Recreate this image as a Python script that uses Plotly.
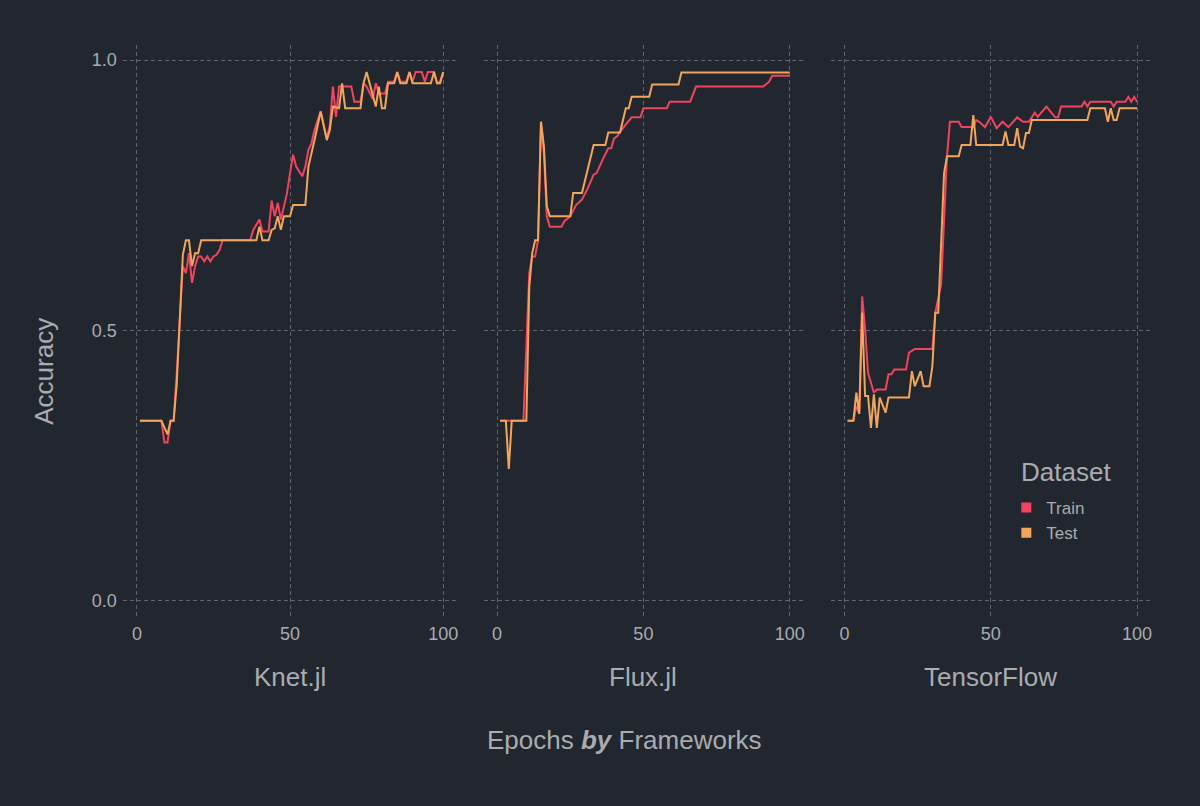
import plotly.graph_objects as go

# accuracy per epoch
knet_train_epochs = [1, 8, 9, 10, 11, 12, 13, 15, 16, 17, 18, 19, 20, 21, 22, 23, 24, 25, 26, 27, 28, 37, 38, 40, 41, 43, 44, 45, 46, 47, 48, 49, 50, 51, 52, 54, 55, 56, 57, 58, 60, 62, 63, 64, 65, 66, 70, 71, 73, 74, 75, 77, 78, 79, 81, 82, 84, 85, 86, 88, 89, 90, 91, 93, 94, 95, 97, 98, 99, 100]
knet_train_acc = [0.333, 0.333, 0.293, 0.293, 0.333, 0.333, 0.42, 0.619, 0.606, 0.643, 0.588, 0.619, 0.637, 0.637, 0.628, 0.637, 0.628, 0.637, 0.64, 0.649, 0.667, 0.667, 0.686, 0.705, 0.683, 0.683, 0.74, 0.711, 0.736, 0.705, 0.729, 0.754, 0.791, 0.825, 0.803, 0.785, 0.803, 0.834, 0.846, 0.871, 0.905, 0.855, 0.88, 0.951, 0.895, 0.951, 0.951, 0.923, 0.923, 0.957, 0.951, 0.928, 0.957, 0.938, 0.938, 0.96, 0.96, 0.978, 0.96, 0.96, 0.978, 0.96, 0.978, 0.978, 0.96, 0.978, 0.978, 0.957, 0.96, 0.978]

knet_test_epochs = [1, 8, 10, 11, 12, 13, 15, 16, 17, 18, 19, 20, 21, 39, 40, 41, 43, 44, 45, 46, 47, 48, 50, 51, 55, 56, 58, 60, 62, 63, 64, 66, 67, 68, 73, 74, 75, 76, 78, 79, 80, 81, 82, 84, 85, 86, 88, 89, 90, 96, 97, 98, 99, 100]
knet_test_acc = [0.333, 0.333, 0.308, 0.333, 0.333, 0.40, 0.64, 0.667, 0.667, 0.619, 0.643, 0.643, 0.667, 0.667, 0.692, 0.667, 0.667, 0.686, 0.689, 0.711, 0.686, 0.711, 0.711, 0.732, 0.732, 0.803, 0.852, 0.905, 0.852, 0.871, 0.914, 0.911, 0.957, 0.911, 0.911, 0.957, 0.978, 0.957, 0.914, 0.951, 0.911, 0.911, 0.957, 0.957, 0.978, 0.957, 0.957, 0.978, 0.957, 0.957, 0.978, 0.957, 0.957, 0.978]

flux_train_epochs = [1, 9, 11, 12, 13, 14, 15, 16, 17, 18, 22, 23, 25, 27, 29, 31, 33, 34, 36, 38, 39, 40, 41, 43, 46, 49, 50, 58, 59, 66, 68, 91, 93, 94, 100]
flux_train_acc = [0.333, 0.333, 0.606, 0.637, 0.637, 0.667, 0.886, 0.828, 0.711, 0.692, 0.692, 0.702, 0.711, 0.732, 0.742, 0.763, 0.788, 0.791, 0.815, 0.837, 0.837, 0.855, 0.859, 0.874, 0.894, 0.894, 0.911, 0.911, 0.923, 0.923, 0.951, 0.951, 0.96, 0.971, 0.971]

flux_test_epochs = [1, 3, 4, 5, 10, 11, 12, 13, 14, 15, 16, 17, 18, 25, 26, 29, 33, 37, 38, 42, 44, 45, 46, 52, 53, 62, 63, 100]
flux_test_acc = [0.333, 0.333, 0.244, 0.333, 0.333, 0.58, 0.643, 0.667, 0.667, 0.886, 0.84, 0.73, 0.711, 0.711, 0.754, 0.754, 0.843, 0.843, 0.866, 0.866, 0.911, 0.911, 0.932, 0.932, 0.955, 0.955, 0.977, 0.977]

tf_train_epochs = [1, 3, 4, 5, 6, 7, 8, 10, 11, 14, 15, 16, 17, 21, 22, 24, 30, 31, 33, 35, 36, 39, 40, 44, 45, 46, 48, 50, 52, 54, 56, 59, 61, 63, 64, 65, 66, 69, 72, 73, 74, 81, 82, 83, 84, 91, 92, 93, 96, 97, 98, 99, 100]
tf_train_acc = [0.333, 0.333, 0.36, 0.346, 0.563, 0.502, 0.422, 0.385, 0.391, 0.391, 0.419, 0.419, 0.428, 0.428, 0.459, 0.466, 0.466, 0.533, 0.585, 0.822, 0.886, 0.886, 0.876, 0.876, 0.889, 0.886, 0.876, 0.895, 0.874, 0.886, 0.876, 0.894, 0.886, 0.886, 0.894, 0.903, 0.895, 0.914, 0.894, 0.894, 0.914, 0.914, 0.923, 0.914, 0.923, 0.923, 0.914, 0.923, 0.923, 0.932, 0.923, 0.932, 0.923]

tf_test_epochs = [1, 3, 4, 5, 6, 7, 8, 9, 10, 11, 12, 14, 15, 22, 23, 24, 26, 27, 29, 30, 31, 32, 34, 35, 39, 40, 43, 44, 45, 54, 55, 56, 58, 59, 60, 61, 62, 63, 64, 83, 84, 89, 90, 91, 92, 93, 94, 100]
tf_test_acc = [0.333, 0.333, 0.385, 0.346, 0.533, 0.379, 0.379, 0.32, 0.382, 0.32, 0.376, 0.348, 0.376, 0.376, 0.425, 0.397, 0.425, 0.397, 0.397, 0.434, 0.533, 0.533, 0.791, 0.822, 0.822, 0.843, 0.843, 0.898, 0.843, 0.843, 0.868, 0.843, 0.843, 0.874, 0.84, 0.837, 0.865, 0.865, 0.889, 0.889, 0.911, 0.911, 0.886, 0.911, 0.889, 0.889, 0.911, 0.911]

frameworks = ["Knet.jl", "Flux.jl", "TensorFlow"]
datasets = ["Train", "Test"]
x_ticks = [0, 50, 100]
y_ticks = [0.0, 0.5, 1.0]
y_tick_labels = ["0.0", "0.5", "1.0"]

BG = "#22262f"
TEXT = "#a9acb1"
GRID = "#60646e"
COLORS = {"Train": "#f2445e", "Test": "#f2a65c"}
FONT = "Liberation Sans"

# panel positions (paper coords)
X_DOMAINS = [[0.1025, 0.3817], [0.4037, 0.6704], [0.6938, 0.9604]]
Y_DOMAIN = [0.2356, 0.9443]


def build_figure():
    series = {
        "Knet.jl": {"Train": (knet_train_epochs, knet_train_acc), "Test": (knet_test_epochs, knet_test_acc)},
        "Flux.jl": {"Train": (flux_train_epochs, flux_train_acc), "Test": (flux_test_epochs, flux_test_acc)},
        "TensorFlow": {"Train": (tf_train_epochs, tf_train_acc), "Test": (tf_test_epochs, tf_test_acc)},
    }

    fig = go.Figure()

    for i, fw in enumerate(frameworks):
        suffix = "" if i == 0 else str(i + 1)
        for ds in datasets:
            xs, ys = series[fw][ds]
            fig.add_trace(go.Scatter(
                x=xs, y=ys, mode="lines",
                line=dict(color=COLORS[ds], width=2),
                xaxis="x" + suffix, yaxis="y" + suffix,
                showlegend=False, hoverinfo="skip",
            ))

    # legend entries drawn as squares
    for ds in datasets:
        fig.add_trace(go.Scatter(
            x=[None], y=[None], mode="markers", name=ds,
            marker=dict(symbol="square", size=10, color=COLORS[ds]),
        ))

    axis_common = dict(
        showgrid=True, gridcolor=GRID, griddash="4px,3px", gridwidth=1,
        zeroline=False, showline=False, ticks="", ticklabelstandoff=5,
        tickfont=dict(family=FONT, size=18, color=TEXT),
    )

    layout = dict(
        width=1200, height=806,
        paper_bgcolor=BG, plot_bgcolor=BG,
        margin=dict(l=0, r=0, t=0, b=0),
        font=dict(family=FONT, color=TEXT),
        legend=dict(
            font=dict(size=17, color=TEXT),
            x=0.84, y=0.392, xanchor="left", yanchor="top",
            bgcolor="rgba(0,0,0,0)", itemwidth=30, tracegroupgap=0,
        ),
    )

    for i, fw in enumerate(frameworks):
        suffix = "" if i == 0 else str(i + 1)
        layout["xaxis" + suffix] = dict(
            axis_common, domain=X_DOMAINS[i], range=[-4.6, 104.6],
            tickvals=x_ticks, anchor="y" + suffix,
        )
        layout["yaxis" + suffix] = dict(
            axis_common, domain=Y_DOMAIN, range=[-0.028, 1.028],
            tickvals=y_ticks, ticktext=y_tick_labels,
            showticklabels=(i == 0), anchor="x" + suffix,
        )

    fig.update_layout(**layout)

    # panel labels under each facet
    for i, fw in enumerate(frameworks):
        suffix = "" if i == 0 else str(i + 1)
        fig.add_annotation(
            text=fw, x=50, xref="x" + suffix, y=0.16, yref="paper",
            xanchor="center", yanchor="middle",
            showarrow=False, font=dict(size=26, color=TEXT),
        )

    fig.add_annotation(
        text="Epochs <b><i>by</i></b> Frameworks", x=0.521, y=0.082,
        xref="paper", yref="paper", xanchor="center", yanchor="middle",
        showarrow=False, font=dict(size=26, color=TEXT),
    )
    fig.add_annotation(
        text="Accuracy", x=0.0367, y=0.54, xref="paper", yref="paper",
        xanchor="center", yanchor="middle",
        textangle=-90, showarrow=False, font=dict(size=26, color=TEXT),
    )
    # legend title
    fig.add_annotation(
        text="Dataset", x=1021 / 1200, y=0.414, xref="paper", yref="paper",
        xanchor="left", yanchor="middle",
        showarrow=False, font=dict(size=26, color=TEXT),
    )

    return fig


if __name__ == "__main__":
    fig = build_figure()
    # drop the default page margin so the figure fills the window
    fig.write_html("out.html", config={"displayModeBar": False},
                   post_script="document.body.style.margin = '0';")
